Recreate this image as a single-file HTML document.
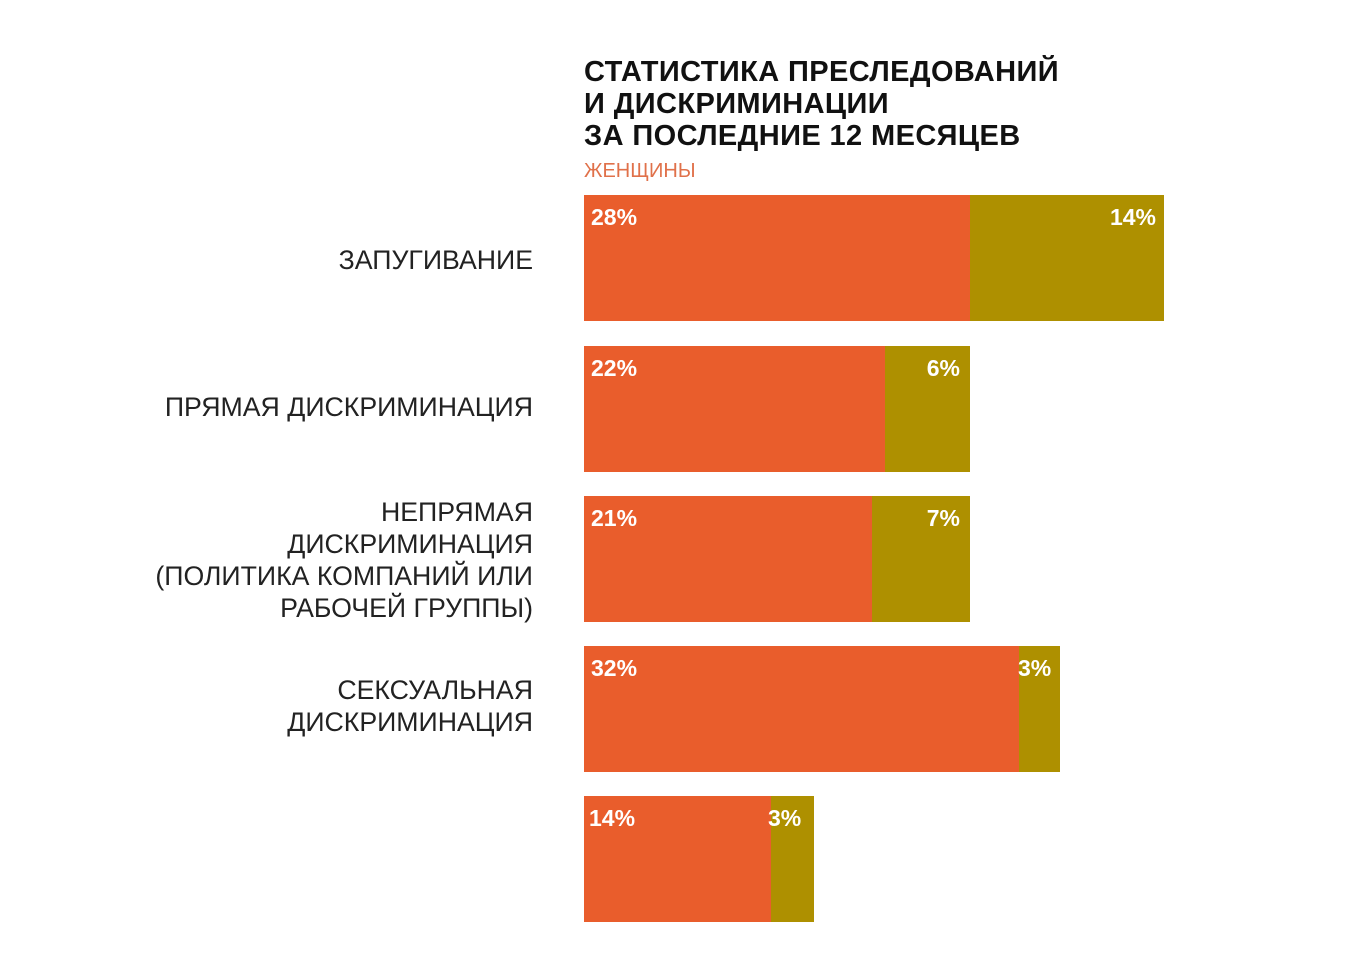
<!DOCTYPE html>
<html><head><meta charset="utf-8"><style>
body{margin:0;width:1360px;height:961px;background:#fff;position:relative;font-family:"Liberation Sans","DejaVu Sans",sans-serif;overflow:hidden}
.t{position:absolute;left:584px;top:56px;font-weight:bold;font-size:29px;line-height:32px;color:#111;letter-spacing:0.4px}
.sub{position:absolute;left:584px;top:160px;font-size:20px;color:#e0714a}
.b{position:absolute;height:126px}
.o{background:#e95d2c}.g{background:#ae9000}
.v{position:absolute;top:9px;color:#fff;font-weight:bold;font-size:23px}
.l{position:absolute;right:827px;text-align:right;font-size:26.7px;line-height:32px;color:#222}
</style></head><body>
<div class="t">СТАТИСТИКА ПРЕСЛЕДОВАНИЙ<br>И ДИСКРИМИНАЦИИ<br>ЗА ПОСЛЕДНИЕ 12 МЕСЯЦЕВ</div>
<div class="sub">ЖЕНЩИНЫ</div>

<div class="b o" style="left:584px;top:195px;width:386px"><span class="v" style="left:7px">28%</span></div>
<div class="b g" style="left:970px;top:195px;width:194px"><span class="v" style="right:8px">14%</span></div>

<div class="b o" style="left:584px;top:346px;width:301px"><span class="v" style="left:7px">22%</span></div>
<div class="b g" style="left:885px;top:346px;width:85px"><span class="v" style="right:10px">6%</span></div>

<div class="b o" style="left:584px;top:496px;width:288px"><span class="v" style="left:7px">21%</span></div>
<div class="b g" style="left:872px;top:496px;width:98px"><span class="v" style="right:10px">7%</span></div>

<div class="b o" style="left:584px;top:646px;width:435px"><span class="v" style="left:7px">32%</span></div>
<div class="b g" style="left:1019px;top:646px;width:41px"><span class="v" style="left:-1px">3%</span></div>

<div class="b o" style="left:584px;top:796px;width:187px"><span class="v" style="left:5px">14%</span></div>
<div class="b g" style="left:771px;top:796px;width:43px"><span class="v" style="left:-3px">3%</span></div>

<div class="l" style="top:244px">ЗАПУГИВАНИЕ</div>
<div class="l" style="top:391px">ПРЯМАЯ ДИСКРИМИНАЦИЯ</div>
<div class="l" style="top:496px">НЕПРЯМАЯ<br>ДИСКРИМИНАЦИЯ<br>(ПОЛИТИКА КОМПАНИЙ ИЛИ<br>РАБОЧЕЙ ГРУППЫ)</div>
<div class="l" style="top:674px">СЕКСУАЛЬНАЯ<br>ДИСКРИМИНАЦИЯ</div>
</body></html>
